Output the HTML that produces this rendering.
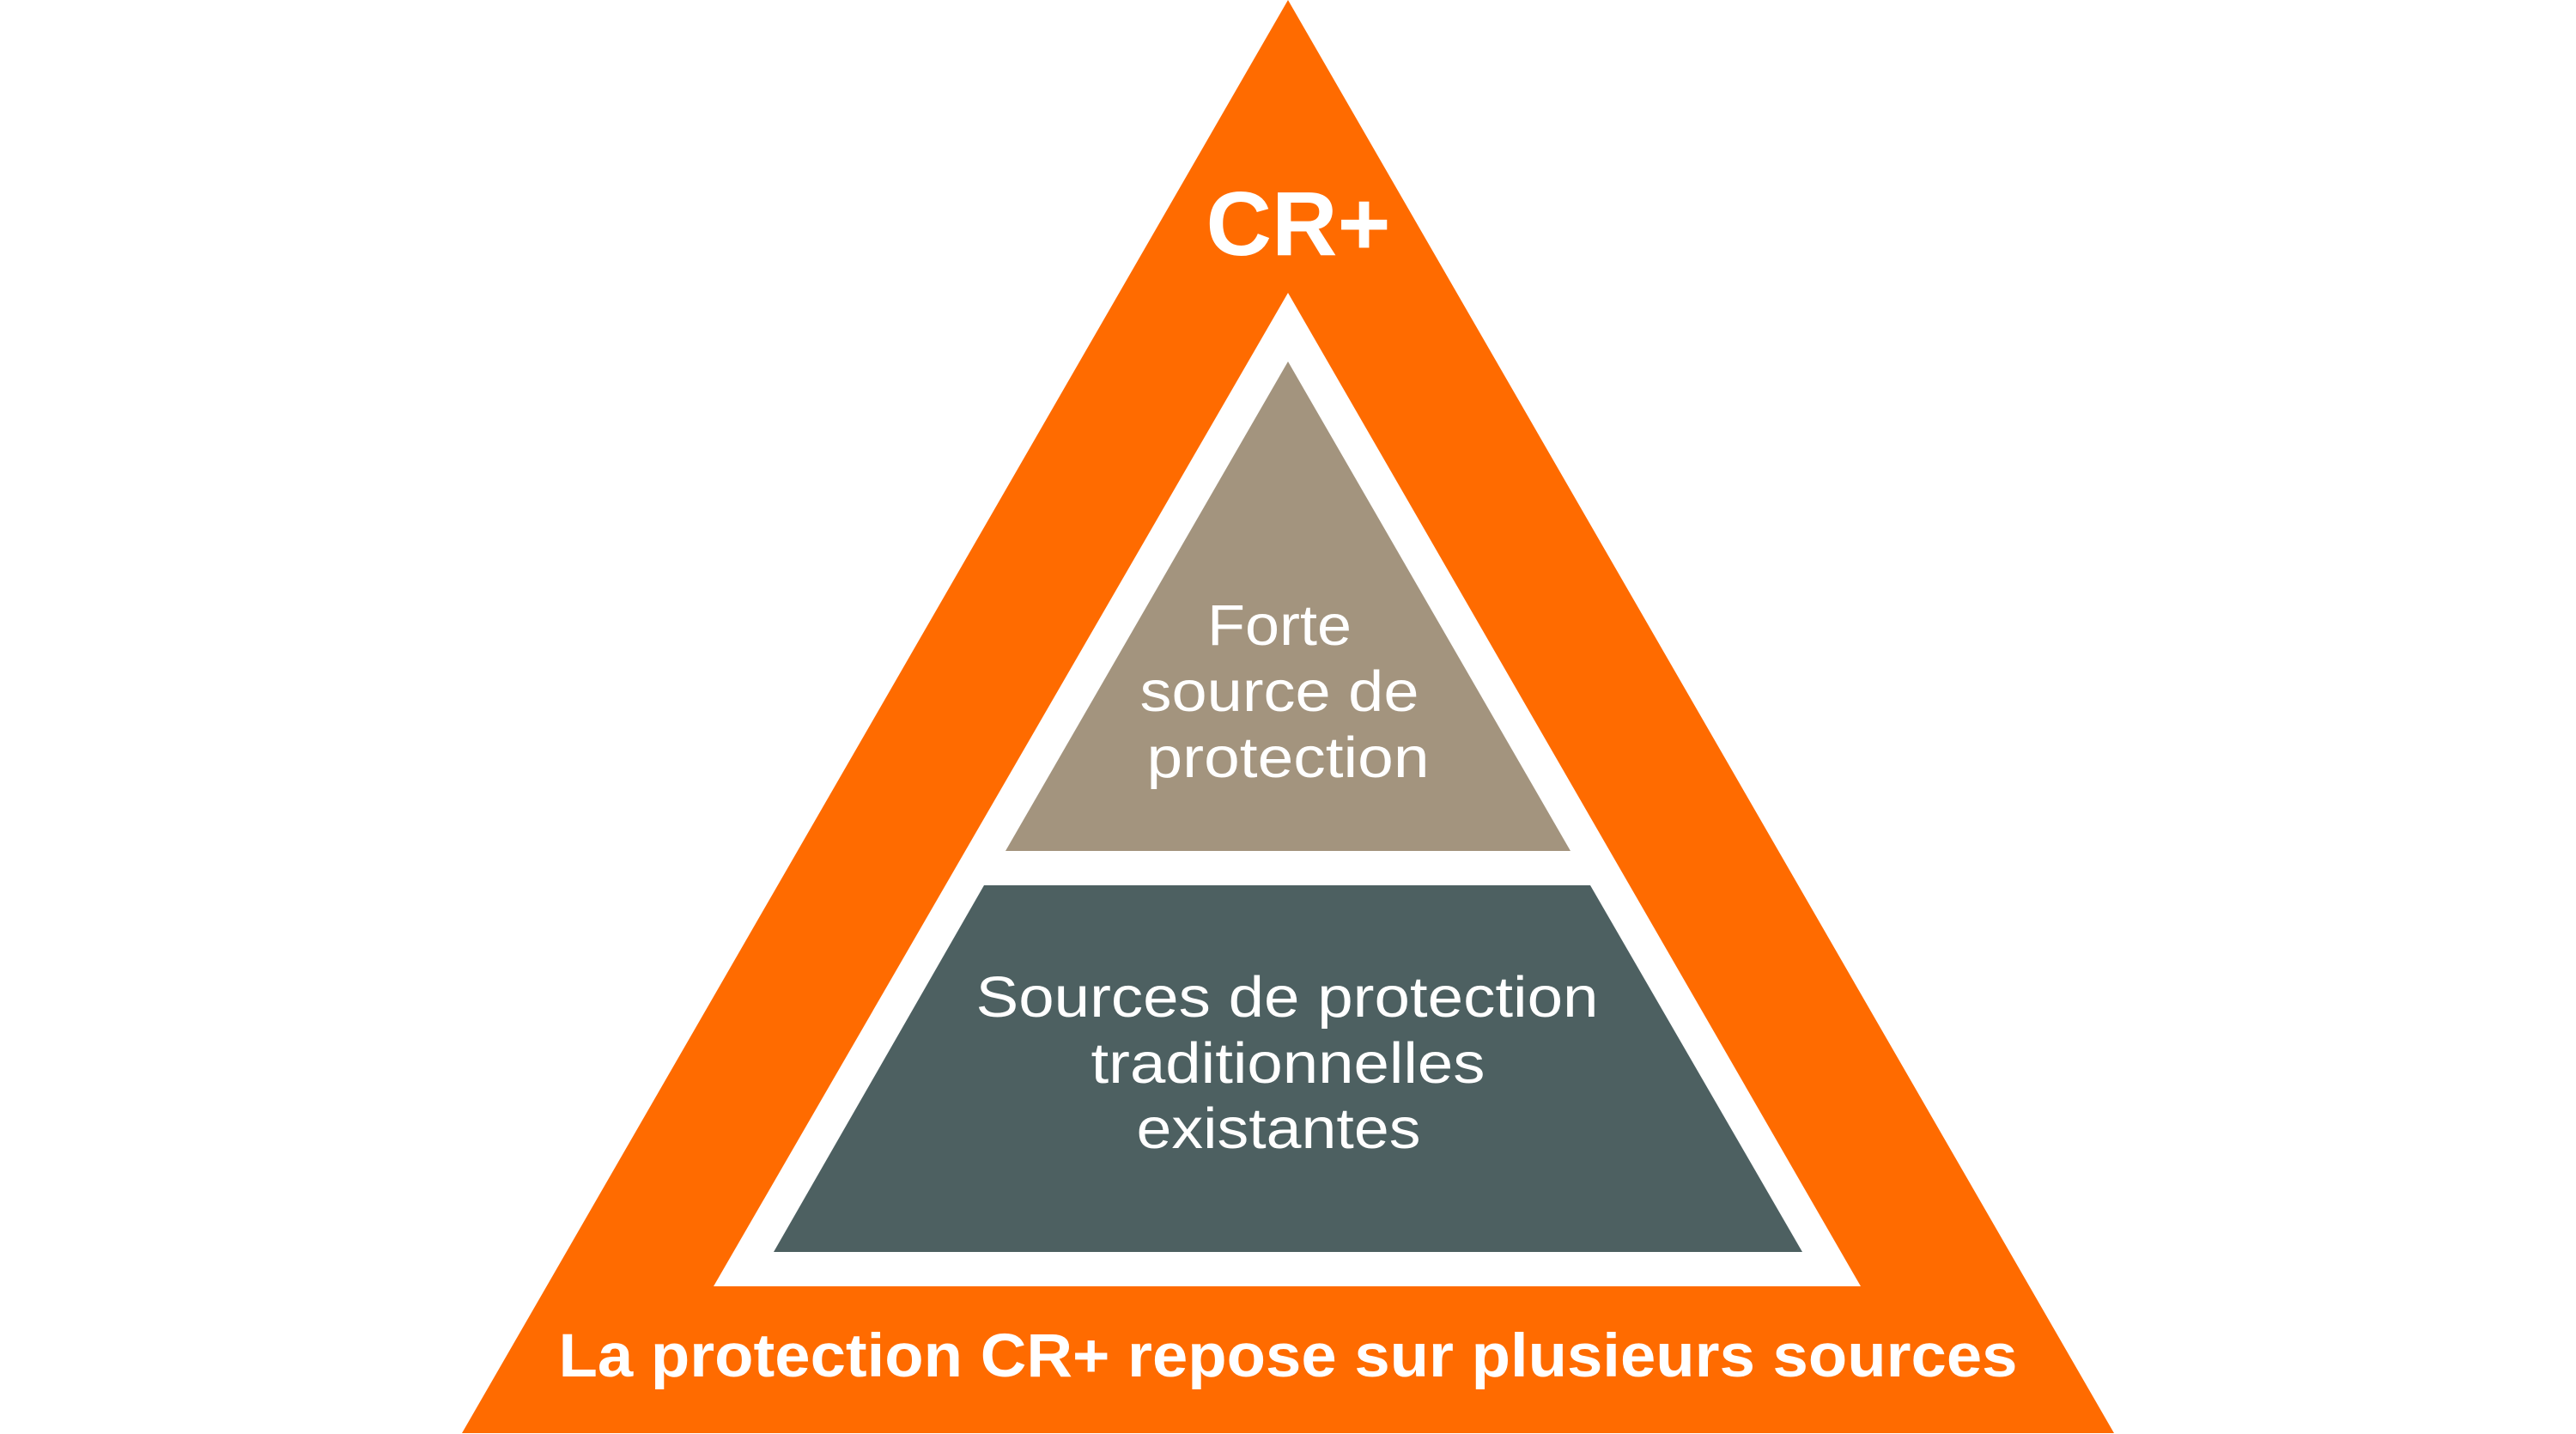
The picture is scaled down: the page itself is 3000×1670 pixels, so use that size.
<!DOCTYPE html>
<html><head><meta charset="utf-8"><style>
html,body{margin:0;padding:0;background:#fff;}
svg{display:block}
text{font-family:"Liberation Sans",Arial,sans-serif;fill:#fff;text-anchor:middle}
</style></head><body>
<svg width="3000" height="1670" viewBox="0 0 3000 1670" xmlns="http://www.w3.org/2000/svg">
<polygon points="1500,0 2462,1669 538,1669" fill="#FF6B00"/>
<polygon points="1500,341 2167,1498 831,1498" fill="#fff"/>
<polygon points="1500,421 1829,991 1171,991" fill="#A3947E"/>
<polygon points="1146,1031 1852,1031 2099,1458 901,1458" fill="#4D6061"/>
<text x="1512" y="297" font-size="106" font-weight="bold">CR+</text>
<text x="1500" y="1603" font-size="71" font-weight="bold" textLength="1699" lengthAdjust="spacingAndGlyphs">La protection CR+ repose sur plusieurs sources</text>
<g font-size="67">
<text x="1490" y="751" textLength="168" lengthAdjust="spacingAndGlyphs">Forte</text>
<text x="1490" y="828" textLength="325" lengthAdjust="spacingAndGlyphs">source de</text>
<text x="1500" y="905" textLength="329" lengthAdjust="spacingAndGlyphs">protection</text>
<text x="1499" y="1184" textLength="725" lengthAdjust="spacingAndGlyphs">Sources de protection</text>
<text x="1500" y="1261" textLength="459" lengthAdjust="spacingAndGlyphs">traditionnelles</text>
<text x="1489" y="1337" textLength="331" lengthAdjust="spacingAndGlyphs">existantes</text>
</g>
</svg>
</body></html>
